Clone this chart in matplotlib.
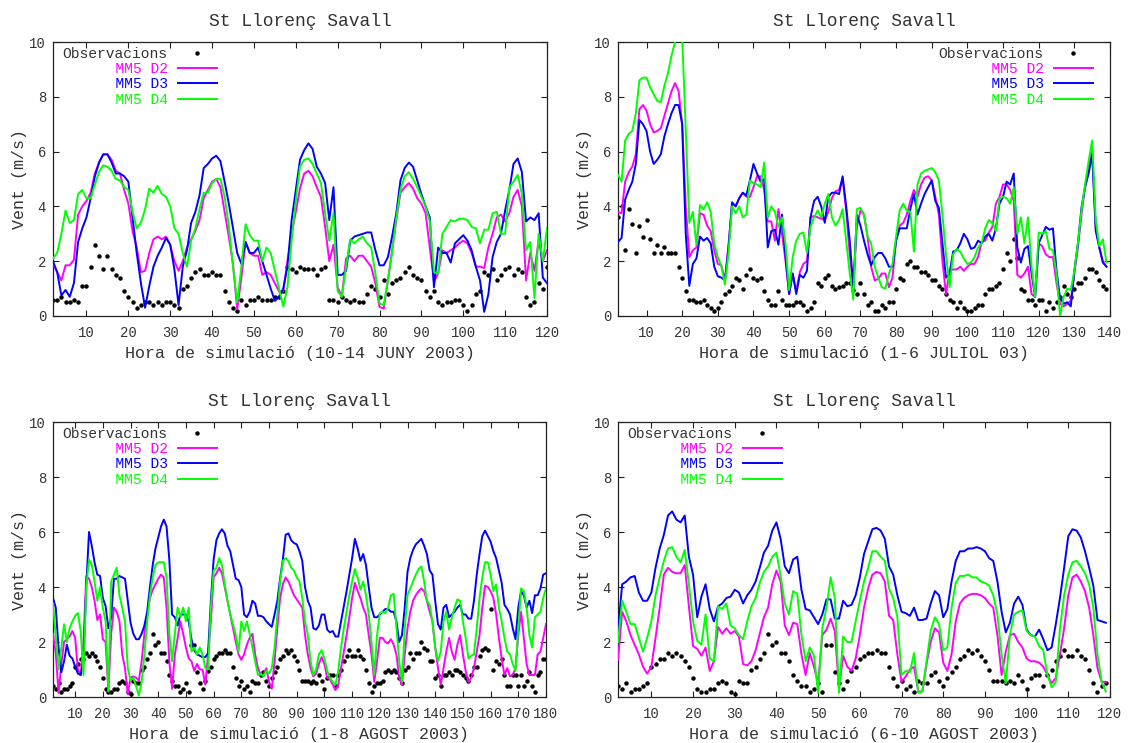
import numpy as np
import matplotlib
matplotlib.use("Agg")
import matplotlib.pyplot as plt
from matplotlib.lines import Line2D

plt.rcParams["font.family"] = "Liberation Mono"

# ---- 10-14 JUNY 2003, hours 2..120 ----
obs_juny = [0.6, 0.6, 0.7, 0.5, 0.5, 0.6, 0.5, 1.1, 1.1,
            1.8, 2.6, 2.2, 1.7, 2.2, 1.7, 1.5, 1.4, 0.9, 0.7,
            0.5, 0.3, 0.4, 0.5, 0.5, 0.4, 0.5, 0.4, 0.5, 0.5,
            0.4, 0.3, 1.0, 1.1, 1.4, 1.6, 1.7, 1.5, 1.5, 1.6,
            1.5, 1.5, 0.9, 0.5, 0.3, 0.2, 0.6, 0.4, 0.6, 0.6,
            0.7, 0.6, 0.6, 0.6, 0.7, 0.7, 0.9, 1.8, 1.7, 1.6,
            1.8, 1.7, 1.7, 1.7, 1.5, 1.7, 1.8, 0.6, 0.6, 0.5,
            0.7, 0.6, 0.5, 0.6, 0.5, 0.5, 0.8, 1.1, 1.0, 0.7,
            1.3, 0.8, 1.2, 1.3, 1.4, 1.6, 1.8, 1.5, 1.4, 1.3,
            0.9, 0.7, 0.9, 0.5, 0.4, 0.5, 0.5, 0.6, 0.6, 0.4,
            0.2, 0.4, 0.8, 0.9, 1.6, 1.5, 1.7, 1.3, 1.5, 1.7,
            1.8, 1.5, 1.7, 1.6, 0.7, 0.4, 0.5, 1.2, 1.0, 1.8]
d2_juny = [1.9, 1.6, 1.3, 1.85, 1.85, 2.05, 3.7, 4.0, 4.2,
           4.5, 5.2, 5.6, 5.9, 5.9, 5.7, 5.3, 5.2, 4.6, 4.1,
           3.1, 2.5, 1.6, 1.65, 2.3, 2.8, 2.9, 2.8, 2.9, 2.6,
           2.0, 1.65, 2.0, 2.5, 2.8, 3.1, 3.5, 4.3, 4.6, 4.9,
           5.0, 4.7, 3.8, 2.9, 1.9, 0.25, 1.4, 2.7, 2.3, 2.2,
           2.2, 1.5, 1.6, 1.5, 1.2, 0.9, 0.9, 2.0, 3.0, 3.8,
           4.65, 5.2, 5.3, 5.1, 4.7, 4.35, 3.25, 2.0, 2.6, 1.05,
           0.7, 2.1, 2.2, 2.0, 2.2, 2.2, 2.0, 1.8, 1.2, 0.33,
           0.27, 1.3, 2.4, 3.5, 4.5, 4.7, 4.85, 4.65, 4.3, 4.1,
           3.75, 2.5, 1.25, 1.55, 2.4, 2.3, 2.4, 2.5, 2.65, 2.75,
           2.65, 2.3, 1.8, 1.8, 1.75, 2.5, 3.0, 3.6, 3.7, 3.45,
           3.75, 4.35, 4.6, 4.0, 1.3, 2.3, 1.65, 2.75, 2.0, 2.4]
d3_juny = [2.0, 1.6, 0.75, 0.95, 0.7, 1.2, 2.7, 3.2, 3.6,
           4.3, 5.1, 5.6, 5.9, 5.9, 5.6, 5.2, 5.2, 5.1, 4.9,
           3.6, 2.3, 1.2, 0.3, 1.1, 1.8, 2.2, 2.5, 2.85, 2.6,
           1.7, 0.4, 1.8, 2.4, 3.4, 3.8, 4.4, 5.4, 5.55, 5.75,
           5.85, 5.65, 4.9, 4.1, 3.2, 2.3, 1.9, 2.7, 2.3, 2.3,
           2.5, 2.0, 1.5, 1.0, 0.55, 0.7, 1.0, 1.8, 3.5, 4.6,
           5.7, 6.05, 6.3, 6.1, 5.45, 5.2, 4.85, 3.5, 4.7, 1.5,
           1.5, 1.65, 2.75, 2.9, 2.95, 3.0, 3.05, 3.05, 2.4, 1.85,
           1.85, 2.15, 2.9, 3.75, 4.95, 5.4, 5.6, 5.45, 4.95, 4.45,
           4.0, 3.6, 1.05, 2.5, 2.3, 2.3, 1.95, 2.65, 2.8, 2.95,
           2.75, 2.4, 1.8, 1.3, 0.15, 0.8, 2.15, 2.7, 3.0, 3.85,
           4.6, 5.55, 5.75, 5.25, 3.45, 3.6, 3.5, 3.75, 1.4, 1.2]
d4_juny = [2.1, 2.3, 3.0, 3.85, 3.4, 3.5, 4.45, 4.6, 4.3,
           4.3, 4.8, 5.25, 5.5, 5.45, 5.3, 5.0, 4.95, 4.7, 4.6,
           3.8, 3.2, 3.4, 3.9, 4.65, 4.5, 4.75, 4.45, 4.35, 4.0,
           3.2, 3.0, 2.3, 1.8, 2.75, 3.2, 3.9, 4.5, 4.5, 4.85,
           5.0, 5.0, 4.35, 3.3, 1.8, 0.5, 1.8, 3.35, 2.95, 2.75,
           2.75, 2.0, 2.5, 2.3, 1.65, 1.0, 0.35, 1.05, 2.75, 4.2,
           5.45, 5.7, 5.75, 5.55, 5.2, 4.85, 3.75, 2.75, 3.75, 0.9,
           0.7, 1.8, 2.8, 2.65, 2.8, 2.9, 2.65, 2.5, 1.55, 0.45,
           0.4, 1.3, 2.3, 3.6, 4.6, 5.1, 5.25, 5.0, 4.7, 4.35,
           4.0, 3.45, 1.6, 1.55, 3.0, 3.25, 3.5, 3.45, 3.55, 3.55,
           3.5, 3.25, 3.2, 2.65, 3.15, 3.15, 3.75, 3.8, 3.0, 3.0,
           4.7, 4.9, 5.15, 4.45, 2.4, 2.7, 0.65, 3.0, 2.0, 3.2]

# ---- 1-6 JULIOL 03, hours 2..139 ----
obs_juliol = [3.6, 4.0, 2.4, 3.9, 3.35, 2.3, 3.3, 2.9, 3.5,
              2.8, 2.3, 2.6, 2.3, 2.5, 2.3, 2.3, 2.3, 1.8, 1.4,
              0.9, 0.6, 0.6, 0.5, 0.5, 0.6, 0.4, 0.3, 0.2, 0.3,
              0.5, 0.8, 0.9, 1.1, 1.4, 1.3, 1.0, 1.5, 1.7, 1.4,
              1.3, 1.4, 0.9, 0.6, 0.4, 0.4, 0.9, 0.6, 0.4, 0.4,
              0.4, 0.5, 0.5, 0.4, 0.2, 0.3, 0.5, 1.2, 1.1, 1.4,
              1.5, 1.1, 1.0, 1.05, 1.1, 1.2, 1.2, 0.95, 0.8, 1.2,
              0.8, 0.4, 0.5, 0.2, 0.2, 0.4, 0.3, 0.5, 0.5, 1.0,
              1.4, 1.3, 1.9, 2.0, 1.8, 1.8, 1.6, 1.6, 1.5, 1.3,
              1.3, 1.1, 1.0, 0.8, 0.6, 0.5, 0.3, 0.5, 0.3, 0.2,
              0.2, 0.3, 0.4, 0.4, 0.8, 1.0, 1.0, 1.1, 1.2, 1.7,
              2.3, 2.0, 2.8, 2.1, 1.0, 0.9, 0.6, 0.6, 0.4, 0.6,
              0.6, 0.2, 0.5, 0.3, 0.5, 0.7, 1.1, 0.8, 0.7, 1.0,
              1.2, 1.2, 1.4, 1.7, 1.7, 1.6, 1.3, 1.1, 1.0]
d2_juliol = [3.8, 3.75, 4.9, 5.25, 5.45, 5.9, 7.55, 7.7, 7.5,
             7.0, 6.7, 6.75, 6.85, 7.3, 7.75, 8.2, 8.5, 8.2, 7.0,
             4.0, 2.15, 2.4, 2.5, 3.75, 3.7, 3.3, 3.1, 2.4, 1.9,
             1.85, 1.3, 2.6, 4.1, 4.0, 4.3, 4.5, 4.35, 4.35, 4.7,
             5.1, 5.1, 4.6, 3.45, 3.45, 2.75, 3.9, 3.0, 2.0, 0.8,
             1.55, 0.9, 1.6, 1.9, 2.0, 3.6, 3.65, 3.6, 3.55, 3.5,
             3.8, 4.3, 4.55, 4.6, 5.0, 3.85, 2.25, 1.05, 3.25, 3.85,
             3.7, 2.9, 1.8, 1.3, 1.35, 1.55, 1.55, 1.05, 1.4, 2.75,
             3.3, 3.4, 3.7, 4.2, 4.6, 4.35, 4.8, 5.05, 5.1, 4.95,
             4.35, 3.7, 2.0, 0.8, 1.65, 1.7, 1.7, 1.8, 1.65, 1.8,
             1.9, 1.9, 2.15, 2.7, 2.75, 3.05, 3.25, 4.1, 4.35, 4.8,
             4.8, 4.6, 4.2, 1.5, 1.4, 1.55, 1.8, 0.8, 0.7, 2.65,
             2.55, 2.25, 2.15, 2.15, 1.2, 0.45, 0.35, 0.45, 0.55, 1.55,
             2.5, 3.7, 4.7, 5.4, 6.05, 3.25, 2.5, 2.0, 1.8]
d3_juliol = [2.7, 2.85, 4.25, 4.6, 4.9, 5.55, 7.15, 7.0, 6.75,
             6.0, 5.55, 5.7, 5.9, 6.55, 7.0, 7.4, 7.7, 7.7, 7.0,
             3.0, 1.1, 1.9, 2.1, 2.9, 2.75, 2.85, 2.65, 1.8, 1.45,
             1.4, 1.3, 2.5, 4.15, 4.0, 4.3, 4.5, 4.4, 4.95, 5.55,
             5.2, 4.9, 5.0, 2.5, 3.1, 3.15, 2.6, 3.7, 2.15, 0.8,
             1.55, 0.8, 1.5, 1.4, 1.65, 3.6, 4.2, 4.35, 4.0, 3.4,
             4.35, 4.5, 4.5, 4.45, 5.1, 4.0, 2.75, 1.05, 3.7, 3.3,
             2.75, 2.25, 1.85, 2.15, 2.3, 2.3, 2.1, 1.8, 1.8, 2.75,
             3.2, 3.2, 3.2, 3.9, 4.45, 3.7, 4.1, 4.45, 4.7, 4.95,
             4.2, 3.95, 2.65, 1.4, 1.55, 2.35, 2.4, 2.65, 3.0, 2.8,
             2.45, 2.5, 2.75, 2.65, 2.9, 3.0, 2.75, 3.2, 4.1, 4.35,
             4.9, 4.8, 5.2, 2.5, 1.95, 2.45, 2.55, 1.55, 0.7, 2.65,
             2.95, 3.25, 3.15, 3.2, 1.65, 0.65, 0.45, 0.5, 0.35, 1.65,
             2.65, 3.95, 4.7, 5.2, 5.9, 3.1, 2.5, 1.95, 1.8]
d4_juliol = [5.15, 4.9, 6.4, 6.65, 6.75, 7.4, 8.6, 8.7, 8.7,
             8.35, 8.1, 7.85, 7.8, 8.4, 8.85, 9.5, 10.0, 10.4, 10.2,
             6.8, 3.4, 3.8, 2.6, 4.05, 3.9, 4.15, 3.8, 2.65, 2.15,
             1.8, 1.15, 2.3, 4.0, 3.75, 4.0, 3.6, 3.7, 4.95, 4.85,
             4.8, 4.7, 5.6, 3.6, 4.0, 3.8, 3.25, 3.6, 2.6, 0.95,
             2.15, 2.75, 3.0, 3.05, 2.3, 3.25, 3.6, 3.85, 3.6, 4.1,
             4.45, 3.6, 3.3, 3.5, 3.9, 2.75, 1.55, 0.6, 3.9, 3.95,
             3.7, 2.9, 2.65, 1.8, 1.4, 1.05, 1.0, 1.55, 1.9, 2.9,
             3.85, 4.1, 3.85, 3.8, 2.35, 4.8, 5.2, 5.3, 5.35, 5.4,
             5.25, 4.95, 3.7, 2.25, 1.05, 2.25, 2.45, 2.35, 2.1, 1.9,
             1.95, 2.15, 2.5, 2.65, 3.2, 3.5, 3.4, 3.1, 4.3, 4.35,
             4.3, 4.1, 4.7, 3.0, 3.6, 2.65, 3.6, 1.8, 0.7, 3.05,
             3.0, 3.1, 2.45, 2.4, 1.55, 0.0, 0.7, 1.0, 0.95, 1.65,
             2.65, 3.85, 4.8, 5.65, 6.4, 3.5, 2.55, 2.8, 1.95]

# ---- AGOST 2003 observations, hours 2..180 (same station record in both August plots) ----
obs_agost = [0.4, 0.3, 0.5, 0.2, 0.3, 0.3, 0.4, 0.5, 1.1,
             1.2, 1.4, 1.4, 1.6, 1.5, 1.6, 1.5, 1.3, 1.1, 0.7,
             0.3, 0.2, 0.2, 0.3, 0.3, 0.5, 0.6, 0.5, 0.2, 0.1,
             0.6, 0.5, 0.5, 1.0, 1.1, 1.4, 1.6, 2.3, 1.9, 2.0,
             1.6, 1.6, 1.3, 0.8, 0.6, 0.4, 0.4, 0.2, 0.3, 0.5,
             0.2, 1.9, 1.9, 0.9, 0.5, 0.3, 0.6, 0.95, 1.1, 1.4,
             1.5, 1.6, 1.6, 1.7, 1.6, 1.6, 1.1, 0.7, 0.4, 0.6,
             0.3, 0.4, 0.2, 0.6, 0.5, 0.5, 0.8, 0.9, 0.6, 0.4,
             0.7, 0.9, 1.1, 1.4, 1.5, 1.7, 1.6, 1.7, 1.5, 1.3,
             1.0, 0.6, 0.6, 0.6, 0.5, 0.6, 0.5, 0.8, 0.6, 0.3,
             0.7, 0.8, 0.8, 0.4, 0.8, 1.0, 1.3, 1.5, 1.7, 1.5,
             1.5, 1.7, 1.5, 1.4, 1.0, 0.5, 0.2, 0.4, 0.5, 0.5,
             0.6, 0.9, 1.0, 0.9, 1.0, 0.9, 0.7, 0.5, 1.0, 1.1,
             1.6, 1.4, 1.6, 1.6, 2.0, 1.8, 1.7, 1.3, 1.3, 0.7,
             0.8, 0.4, 0.8, 0.8, 0.9, 0.8, 1.0, 1.0, 0.9, 0.8,
             0.7, 0.6, 0.8, 1.1, 1.1, 1.5, 1.7, 1.8, 1.7, 3.2,
             1.0, 1.3, 1.2, 1.4, 0.8, 0.4, 0.4, 0.8, 0.8, 0.4,
             0.8, 0.4, 0.6, 0.9, 0.4, 0.2, 0.8, 0.9, 1.4, 1.4]

# ---- 1-8 AGOST 2003, hours 2..180 ----
d2_ago1 = [2.3, 1.6, 0.15, 1.2, 2.0, 2.1, 2.2, 2.4, 2.15,
           1.0, 0.8, 2.0, 4.4, 4.3, 4.0, 3.5, 2.8, 3.0, 2.1,
           2.0, 0.2, 2.3, 3.25, 3.1, 2.75, 1.55, 1.05, 0.1, 0.7,
           0.75, 0.7, 0.6, 1.3, 2.3, 3.0, 3.6, 3.9, 4.1, 4.3,
           4.45, 4.35, 3.25, 1.3, 0.3, 1.55, 2.15, 2.75, 2.3, 1.8,
           1.4, 1.3, 0.95, 1.2, 1.0, 1.0, 0.45, 1.55, 2.75, 4.35,
           4.5, 4.7, 4.5, 4.0, 3.5, 3.0, 2.5, 2.0, 1.55, 1.35,
           1.55, 1.9, 2.15, 2.3, 1.55, 1.05, 0.8, 0.8, 1.05, 0.55,
           0.3, 1.3, 2.5, 3.6, 4.1, 4.35, 4.2, 3.95, 3.7, 3.55,
           3.4, 3.25, 2.25, 1.55, 1.05, 0.75, 0.85, 1.2, 1.45, 1.2,
           0.7, 0.65, 0.45, 0.25, 0.45, 1.05, 1.65, 2.25, 2.9, 3.6,
           4.15, 3.85, 3.6, 3.25, 3.0, 2.25, 1.55, 0.55, 1.3, 2.15,
           2.15, 2.0, 1.95, 2.1, 1.9, 1.55, 0.7, 0.45, 1.55, 2.5,
           3.1, 3.5, 3.7, 3.85, 3.95, 3.85, 3.5, 3.1, 2.75, 1.8,
           1.05, 0.45, 1.05, 1.65, 2.15, 1.65, 1.35, 1.9, 2.25, 1.55,
           0.95, 0.55, 0.7, 1.05, 1.65, 2.25, 3.25, 4.05, 4.0, 3.85,
           3.6, 3.0, 2.15, 1.4, 0.8, 1.05, 0.75, 0.8, 1.05, 2.25,
           3.1, 2.15, 1.2, 0.8, 0.8, 0.8, 1.55, 1.65, 2.15, 2.65]
d3_ago1 = [3.6, 3.25, 1.8, 0.9, 1.3, 1.9, 1.5, 1.4, 1.1,
           0.85, 0.8, 1.3, 4.0, 6.0, 5.5, 4.9, 4.45, 4.4, 3.6,
           3.3, 2.5, 2.9, 4.3, 4.3, 4.4, 4.35, 4.3, 3.5, 2.7,
           2.3, 2.1, 2.1, 2.3, 2.6, 3.1, 4.0, 4.8, 5.4, 5.8,
           6.2, 6.45, 6.2, 5.0, 3.0, 2.9, 2.6, 3.0, 3.0, 3.0,
           2.75, 2.1, 1.7, 1.55, 1.5, 1.45, 1.45, 1.6, 3.5, 5.0,
           5.7, 5.95, 6.1, 5.95, 5.5, 5.3, 4.8, 4.3, 4.25, 4.0,
           3.0, 2.9, 3.1, 3.5, 3.4, 2.95, 2.95, 2.9, 2.75, 2.65,
           2.55, 3.0, 3.5, 4.3, 5.0, 5.9, 5.95, 5.7, 5.6, 5.55,
           5.3, 4.95, 4.0, 3.5, 3.25, 2.5, 2.45, 2.6, 3.0, 3.0,
           2.45, 2.35, 2.4, 2.2, 2.2, 2.75, 3.3, 3.85, 4.45, 5.05,
           5.75, 5.4, 4.95, 5.2, 4.8, 4.0, 3.25, 2.9, 2.9, 3.0,
           3.1, 3.2, 3.2, 3.1, 3.1, 2.75, 2.0, 2.25, 3.25, 4.55,
           5.05, 5.35, 5.55, 5.65, 5.75, 5.5, 5.2, 4.6, 4.45, 3.5,
           2.65, 2.45, 3.25, 3.35, 2.9, 3.0, 3.1, 3.25, 3.35, 3.0,
           3.0, 2.85, 2.85, 3.5, 4.45, 5.2, 5.85, 6.05, 5.85, 5.65,
           5.3, 5.05, 4.6, 4.15, 3.35, 3.2, 3.0, 2.5, 2.1, 3.25,
           3.85, 3.7, 3.25, 3.5, 3.05, 3.7, 3.7, 3.95, 4.45, 4.5]
d4_ago1 = [3.4, 2.2, 1.0, 1.8, 2.65, 2.0, 2.5, 2.75, 2.95,
           3.05, 2.4, 0.8, 4.0, 5.0, 4.8, 4.2, 3.5, 4.0, 3.25,
           2.75, 0.2, 4.2, 4.45, 4.7, 3.7, 3.25, 2.75, 1.05, 0.6,
           0.7, 0.4, 0.05, 0.55, 1.55, 2.75, 3.7, 4.35, 4.8, 4.9,
           4.9, 4.9, 4.35, 2.3, 1.3, 2.3, 3.25, 2.9, 3.25, 2.75,
           3.25, 1.65, 1.8, 1.55, 1.8, 1.55, 1.05, 1.0, 3.25, 4.6,
           4.7, 5.05, 4.8, 4.1, 3.5, 3.0, 2.65, 2.25, 1.65, 2.75,
           2.4, 2.75, 2.3, 1.8, 1.3, 0.8, 0.85, 0.75, 0.95, 0.85,
           1.05, 1.8, 3.0, 4.2, 4.95, 5.05, 4.95, 4.7, 4.6, 4.35,
           4.2, 3.6, 2.75, 2.25, 1.3, 0.8, 1.0, 1.55, 1.7, 1.4,
           0.95, 0.7, 0.55, 0.45, 0.95, 1.8, 2.5, 3.1, 3.7, 4.2,
           4.65, 4.35, 3.9, 4.2, 3.7, 3.0, 2.0, 0.8, 2.25, 3.05,
           3.1, 3.05, 3.25, 3.7, 3.75, 2.5, 1.3, 0.55, 2.5, 3.7,
           3.95, 4.2, 4.45, 4.65, 4.75, 4.2, 3.5, 3.35, 2.75, 1.8,
           1.3, 1.65, 2.75, 3.1, 2.45, 2.9, 3.25, 3.55, 3.5, 2.75,
           2.15, 1.4, 1.5, 1.55, 2.5, 3.6, 4.35, 4.9, 4.9, 4.45,
           3.85, 4.1, 3.25, 2.75, 2.15, 1.65, 1.55, 1.2, 0.95, 2.5,
           3.95, 3.85, 3.25, 2.25, 1.8, 2.9, 3.0, 3.1, 3.6, 3.95]

# ---- 6-10 AGOST 2003, hours 2..119 ----
d2_ago6 = [1.35, 3.1, 2.75, 2.25, 1.9, 1.55, 1.1, 0.85, 1.1,
           2.15, 3.25, 4.45, 4.7, 4.55, 4.5, 4.5, 4.8, 3.3, 1.85,
           1.75, 1.5, 1.8, 0.95, 1.3, 2.55, 2.3, 2.5, 2.3, 2.4,
           2.2, 1.2, 1.15, 1.3, 1.7, 2.3, 2.9, 3.25, 4.1, 4.6,
           4.2, 2.6, 2.25, 2.7, 2.65, 1.55, 0.8, 1.6, 1.1, 0.5,
           2.25, 2.45, 2.85, 2.4, 0.3, 1.5, 1.1, 0.95, 1.4, 2.25,
           3.25, 3.95, 4.45, 4.55, 4.5, 4.2, 2.95, 2.8, 1.55, 0.55,
           0.75, 1.0, 1.1, 0.2, 0.2, 1.2, 2.0, 2.5, 2.35, 1.25,
           0.95, 1.55, 2.75, 3.4, 3.6, 3.7, 3.75, 3.75, 3.7, 3.6,
           3.4, 3.25, 2.25, 0.8, 1.65, 2.25, 2.3, 2.0, 1.8, 1.4,
           1.3, 1.3, 1.25, 1.1, 0.8, 0.5, 0.7, 1.55, 2.5, 3.7,
           4.35, 4.45, 4.2, 3.85, 3.25, 2.25, 1.05, 0.55, 0.55]
d3_ago6 = [2.4, 4.1, 4.2, 4.35, 4.4, 3.8, 3.5, 3.5, 3.8,
           4.7, 5.4, 5.9, 6.6, 6.75, 6.45, 6.35, 6.6, 5.1, 4.45,
           2.9, 3.65, 4.1, 3.2, 2.75, 3.3, 3.4, 3.6, 3.65, 3.9,
           3.8, 3.4, 3.7, 3.9, 4.2, 4.7, 5.25, 5.5, 6.05, 6.35,
           5.75, 4.75, 4.5, 5.0, 5.1, 3.9, 3.2, 3.15, 2.9, 2.65,
           3.0, 3.55, 3.55, 2.85, 2.85, 3.5, 3.3, 3.35, 3.7, 4.35,
           5.2, 5.65, 6.1, 6.15, 6.05, 5.75, 4.75, 4.45, 3.7, 3.1,
           3.05, 2.95, 3.25, 2.8, 2.8, 2.85, 3.4, 3.85, 3.7, 2.9,
           3.2, 4.2, 4.95, 5.3, 5.3, 5.4, 5.4, 5.45, 5.4, 5.3,
           5.05, 4.95, 4.2, 3.1, 2.35, 2.7, 3.4, 3.65, 3.35, 2.45,
           2.25, 2.2, 2.45, 2.1, 1.7, 1.8, 2.65, 3.6, 4.7, 5.85,
           6.1, 6.05, 5.8, 5.3, 4.7, 4.05, 2.8, 2.75, 2.7]
d4_ago6 = [2.0, 3.5, 3.1, 2.65, 2.65, 2.15, 1.65, 2.15, 2.75,
           3.7, 4.35, 4.95, 5.4, 5.45, 5.1, 4.9, 5.35, 4.1, 2.75,
           2.05, 1.9, 3.0, 1.4, 1.3, 3.3, 3.2, 3.4, 2.6, 2.5,
           2.25, 2.1, 2.75, 3.3, 3.6, 4.15, 4.55, 4.75, 5.1, 5.25,
           4.4, 3.4, 3.0, 3.85, 3.75, 2.25, 1.3, 1.8, 1.5, 0.15,
           2.5, 3.25, 4.35, 3.6, 0.15, 2.2, 2.0, 2.0, 2.75, 3.5,
           4.2, 4.7, 5.3, 5.3, 5.1, 4.95, 3.95, 3.6, 2.9, 0.8,
           0.95, 0.9, 1.6, 0.15, 0.2, 1.3, 2.4, 2.9, 2.65, 1.7,
           1.8, 3.25, 4.15, 4.4, 4.4, 4.45, 4.35, 4.35, 4.2, 4.15,
           4.05, 3.7, 3.0, 1.55, 0.5, 2.25, 3.0, 3.1, 3.15, 2.4,
           2.25, 2.2, 1.85, 1.7, 0.8, 0.35, 0.55, 2.5, 3.7, 4.45,
           4.9, 4.95, 4.75, 4.5, 4.1, 3.25, 1.55, 0.55, 0.2]

TXT = "#333333"
C_D2 = "#ff00ff"
C_D3 = "#0000ff"
C_D4 = "#00ff00"
FONT = "Liberation Mono"

fig = plt.figure(figsize=(11.29, 7.43), dpi=100)


def panel(rect, obs, d2, d3, d4, xmax, xlabel, legend_loc, anchor):
    ax = fig.add_axes(rect)
    x = np.arange(2, 2 + len(obs))
    xs = np.arange(2, 2 + len(d2))
    ax.plot(x, obs, linestyle="none", marker="o", ms=2.2, color="black", zorder=2)
    ax.plot(xs, d2, color=C_D2, lw=1.4, zorder=3)
    ax.plot(xs, d3, color=C_D3, lw=1.4, zorder=3)
    ax.plot(xs, d4, color=C_D4, lw=1.4, zorder=3)

    ax.set_xlim(2, xmax)
    ax.set_ylim(0, 10)
    ax.set_xticks(np.arange(10, xmax + 1, 10))
    ax.set_yticks(np.arange(0, 11, 2))
    ax.tick_params(direction="in", top=True, right=True, length=4, width=0.8,
                   labelsize=10, labelcolor=TXT, color="#222222")
    ax.tick_params(axis="x", pad=7.5)
    ax.tick_params(axis="y", pad=5)
    for s in ax.spines.values():
        s.set_linewidth(0.9)
        s.set_color("#222222")

    ax.set_title("St Llorenç Savall", fontsize=13, color=TXT, pad=11.5)
    ax.set_xlabel(xlabel, fontsize=12, color=TXT, labelpad=4)
    ax.set_ylabel("Vent (m/s)", fontsize=12, color=TXT, labelpad=2)

    handles = [Line2D([], [], linestyle="none", marker="o", ms=2.2, color="black"),
               Line2D([], [], color=C_D2, lw=1.4),
               Line2D([], [], color=C_D3, lw=1.4),
               Line2D([], [], color=C_D4, lw=1.4)]
    labels = ["Observacions", "      MM5 D2", "      MM5 D3", "      MM5 D4"]
    leg = ax.legend(handles, labels, loc=legend_loc, bbox_to_anchor=anchor,
                    frameon=False, markerfirst=False,
                    handlelength=2.7, handletextpad=0.7, labelspacing=0.08,
                    borderpad=0.35, borderaxespad=0.0,
                    prop={"family": FONT, "size": 10.5})
    for t, c in zip(leg.get_texts(), [TXT, C_D2, C_D3, C_D4]):
        t.set_color(c)
    return ax


panel([0.04694, 0.57470, 0.43756, 0.36877], obs_juny, d2_juny, d3_juny, d4_juny,
      120, "Hora de simulació (10-14 JUNY 2003)", "upper left", (0.009, 1.0))
panel([0.54739, 0.57470, 0.43578, 0.36877], obs_juliol, d2_juliol, d3_juliol, d4_juliol,
      140, "Hora de simulació (1-6 JULIOL 03)", "upper right", (0.976, 1.0))
panel([0.04694, 0.06191, 0.43667, 0.37012], obs_agost, d2_ago1, d3_ago1, d4_ago1,
      180, "Hora de simulació (1-8 AGOST 2003)", "upper left", (0.009, 1.0))
panel([0.54739, 0.06191, 0.43578, 0.37012], obs_agost[:len(d2_ago6)], d2_ago6, d3_ago6, d4_ago6,
      120, "Hora de simulació (6-10 AGOST 2003)", "upper left", (0.009, 1.0))

fig.savefig("out.png", dpi=100)
